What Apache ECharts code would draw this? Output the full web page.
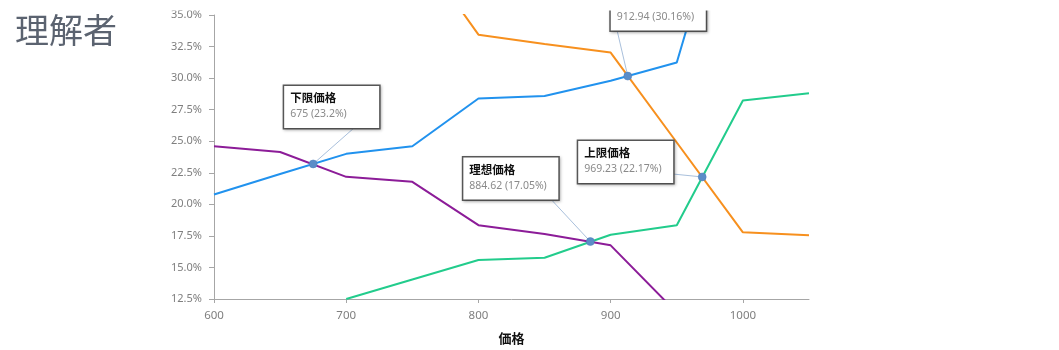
<!DOCTYPE html>
<html>
<head>
<meta charset="utf-8">
<script src="https://cdn.jsdelivr.net/npm/echarts@6/dist/echarts.min.js"></script>
<style>
  html, body { margin: 0; padding: 0; background: #ffffff; }
  #chart { width: 1059px; height: 350px; }
</style>
</head>
<body>
<div id="chart"></div>
<script>
// Price points on the horizontal axis
const prices = [600, 650, 700, 750, 800, 850, 900, 950, 1000, 1050];

// Share of respondents (%) per price for each of the four curves
const seriesBlue   = [20.78, 22.4, 24.0, 24.6, 28.38, 28.58, 29.79, 31.23, 49.0, null];
const seriesOrange = [null, null, null, 40.8, 33.44, 32.7, 32.02, 24.9, 17.78, 17.56];
const seriesGreen  = [null, null, 12.5, 14.05, 15.59, 15.77, 17.59, 18.35, 28.22, 28.8];
const seriesPurple = [24.6, 24.15, 22.18, 21.78, 18.35, 17.65, 16.75, 11.42, null, null];

// Crossing points and their names
const pointNames  = ['下限価格', '理想価格', '妥協価格', '上限価格'];
const pointPrices = [675, 884.62, 912.94, 969.23];
const pointShares = [23.2, 17.05, 30.16, 22.17];

// Y axis ticks (%)
const yMin = 12.5, yMax = 35, yStep = 2.5;
// X axis ticks
const xMin = 600, xMax = 1050, xStep = 100;

// Callout box placement relative to its point (px): left edge, vertical centre
const calloutOffsets = [[-29, -57], [-127, -63], [-17, -66.5], [-124, -15]];
// Where each leader line meets its callout box, relative to the point (px)
const leaderEnds = [[42, -37], [-40, -43], [-11, -47], [-30, -3]];

const toPairs = (vals) => prices.map((p, i) => [p, vals[i]]);
const crossingData = pointPrices.map((p, i) => ({ name: pointNames[i], value: [p, pointShares[i]] }));

const chart = echarts.init(document.getElementById('chart'), null, { renderer: 'canvas' });

const makeLine = (name, vals, color) => ({
  type: 'line',
  name: name,
  data: toPairs(vals),
  showSymbol: false,
  symbol: 'none',
  connectNulls: false,
  clip: true,
  emphasis: { disabled: true },
  z: 2,
  itemStyle: { color: color },
  lineStyle: { width: 2, color: color }
});

chart.setOption({
  animation: false,
  backgroundColor: '#ffffff',
  title: {
    text: '理解者',
    left: 10,
    top: 8,
    z: 200,
    textStyle: {
      fontFamily: 'Noto Sans CJK JP',
      fontSize: 34,
      fontWeight: 'normal',
      color: '#5b6370'
    }
  },
  // the plot's frame starts a little below the page top
  graphic: [{
    type: 'rect',
    left: 150,
    top: 0,
    z: 100,
    silent: true,
    shape: { width: 909, height: 10.5 },
    style: { fill: '#ffffff' }
  }],
  grid: { left: 214, right: 250, top: 15, bottom: 51, containLabel: false },
  xAxis: {
    type: 'value',
    min: xMin,
    max: xMax,
    interval: xStep,
    name: '価格',
    nameLocation: 'middle',
    nameGap: 33,
    nameTextStyle: { fontFamily: 'Noto Sans CJK JP', fontSize: 13, fontWeight: 'bold', color: '#111' },
    axisLine: { show: true, lineStyle: { color: '#a6a6a6', width: 1 } },
    axisTick: { show: true, length: 4, lineStyle: { color: '#a6a6a6' } },
    axisLabel: {
      color: '#7f7f7f', fontSize: 11.5, fontFamily: 'Noto Sans', margin: 11,
      showMaxLabel: false,
      formatter: (v) => String(v)
    },
    splitLine: { show: false }
  },
  yAxis: {
    type: 'value',
    min: yMin,
    max: yMax,
    interval: yStep,
    axisLine: { show: true, lineStyle: { color: '#a6a6a6', width: 1 } },
    axisTick: { show: true, length: 5, lineStyle: { color: '#a6a6a6' } },
    axisLabel: {
      color: '#7f7f7f', fontSize: 11, fontFamily: 'Noto Sans', margin: 12,
      formatter: (v) => v.toFixed(1) + '%'
    },
    splitLine: { show: false }
  },
  series: [
    makeLine('blue', seriesBlue, '#2192ee'),
    makeLine('orange', seriesOrange, '#f7901e'),
    makeLine('green', seriesGreen, '#22cc8c'),
    makeLine('purple', seriesPurple, '#8c1c98'),
    {
      // leader lines from each crossing to its callout
      type: 'custom',
      name: 'leaders',
      z: 4,
      clip: false,
      silent: true,
      data: crossingData,
      renderItem: (params, api) => {
        const p = api.coord([api.value(0), api.value(1)]);
        const o = leaderEnds[params.dataIndex];
        return {
          type: 'line',
          shape: { x1: p[0], y1: p[1], x2: p[0] + o[0], y2: p[1] + o[1] },
          style: { stroke: '#a9c0dc', lineWidth: 1 }
        };
      }
    },
    {
      type: 'scatter',
      name: 'crossings',
      z: 5,
      symbol: 'circle',
      symbolSize: 8,
      clip: false,
      itemStyle: { color: '#5b8dc8', borderColor: '#4f7fb8', borderWidth: 0.5, opacity: 1 },
      emphasis: { disabled: true },
      data: crossingData,
      label: {
        show: true,
        position: 'inside',
        opacity: 1,
        width: 83,
        padding: [4, 6, 6, 6],
        backgroundColor: '#ffffff',
        borderColor: '#595959',
        borderWidth: 1.5,
        shadowColor: 'rgba(0,0,0,0.25)',
        shadowBlur: 3,
        shadowOffsetX: 1,
        shadowOffsetY: 1,
        align: 'left',
        formatter: (p) => '{t|' + p.name + '}\n{v|' + p.value[0] + ' (' + p.value[1] + '%)}',
        rich: {
          t: { fontFamily: 'Noto Sans CJK JP', fontSize: 11.5, fontWeight: 'bold', color: '#111', lineHeight: 16, width: 83 },
          v: { fontFamily: 'Noto Sans', fontSize: 10.5, color: '#8a8a8a', lineHeight: 16, width: 83 }
        }
      },
      labelLine: { show: false },
      labelLayout: (params) => {
        const o = calloutOffsets[params.dataIndex];
        return { dx: o[0], dy: o[1] };
      }
    }
  ]
});
</script>
</body>
</html>
